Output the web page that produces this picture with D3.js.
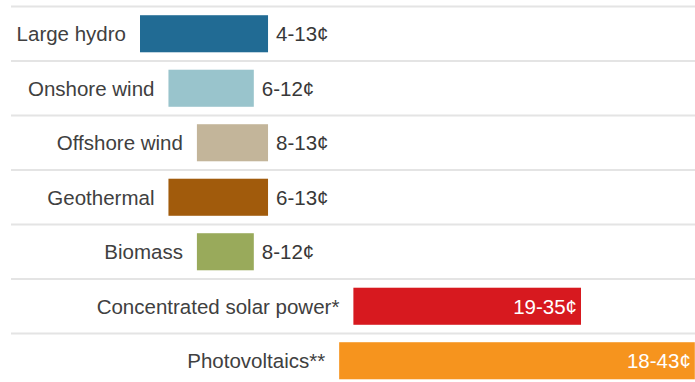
<!DOCTYPE html>
<html>
<head>
<meta charset="utf-8">
<script src="https://cdn.jsdelivr.net/npm/d3@7/dist/d3.min.js"></script>
<style>
  html, body { margin: 0; padding: 0; background: #fff; }
  svg { display: block; }
  text { font-family: "Liberation Sans", Arial, Helvetica, sans-serif; }
</style>
</head>
<body>
<svg id="chart" width="695" height="382"></svg>
<script>
// Levelised cost ranges of renewable electricity, cents per kWh
const sources = ["Large hydro", "Onshore wind", "Offshore wind", "Geothermal", "Biomass", "Concentrated solar power*", "Photovoltaics**"];
const lowCost  = [4, 6, 8, 6, 8, 19, 18];
const highCost = [13, 12, 13, 13, 12, 35, 43];
const barColors = ["#216b94", "#99c4cc", "#c3b59a", "#a15b0c", "#99aa5b", "#d7191f", "#f6941e"];

const rows = sources.map((name, i) => ({ name, low: lowCost[i], high: highCost[i], color: barColors[i] }));

const svg = d3.select("#chart");
const W = 695;

const x = d3.scaleLinear().domain([0, 43]).range([83.1, 694.8]);
const y = d3.scaleBand()
  .domain(sources)
  .range([6.5, 6.5 + 54.5 * sources.length])
  .paddingInner(0.32)
  .paddingOuter(0.16);

const gap = (y.step() - y.bandwidth()) / 2;

// Row separators above each row
svg.append("g").selectAll("line")
  .data(rows)
  .join("line")
  .attr("x1", 11).attr("x2", W)
  .attr("y1", d => y(d.name) - gap)
  .attr("y2", d => y(d.name) - gap)
  .attr("stroke", "#e4e4e4")
  .attr("stroke-width", 2);

// Cost range bars
svg.append("g").selectAll("rect")
  .data(rows)
  .join("rect")
  .attr("x", d => x(d.low))
  .attr("width", d => x(d.high) - x(d.low))
  .attr("y", d => y(d.name))
  .attr("height", y.bandwidth())
  .attr("fill", d => d.color);

// Source names, right-aligned against the bar start
svg.append("g").selectAll("text")
  .data(rows)
  .join("text")
  .attr("x", d => x(d.low) - 14)
  .attr("y", d => y(d.name) + y.bandwidth() / 2)
  .attr("dy", "0.36em")
  .attr("text-anchor", "end")
  .attr("font-size", 20.5)
  .attr("fill", "#404040")
  .text(d => d.name);

// Range labels: inside the bar in white when it is wide, otherwise after it
const inside = d => x(d.high) - x(d.low) > 150;
svg.append("g").selectAll("text")
  .data(rows)
  .join("text")
  .attr("x", d => inside(d) ? x(d.high) - 4 : x(d.high) + 8)
  .attr("y", d => y(d.name) + y.bandwidth() / 2)
  .attr("dy", "0.36em")
  .attr("text-anchor", d => inside(d) ? "end" : "start")
  .attr("font-size", 20.5)
  .attr("fill", d => inside(d) ? "#ffffff" : "#383838")
  .text(d => `${d.low}-${d.high}¢`);
</script>
</body>
</html>
